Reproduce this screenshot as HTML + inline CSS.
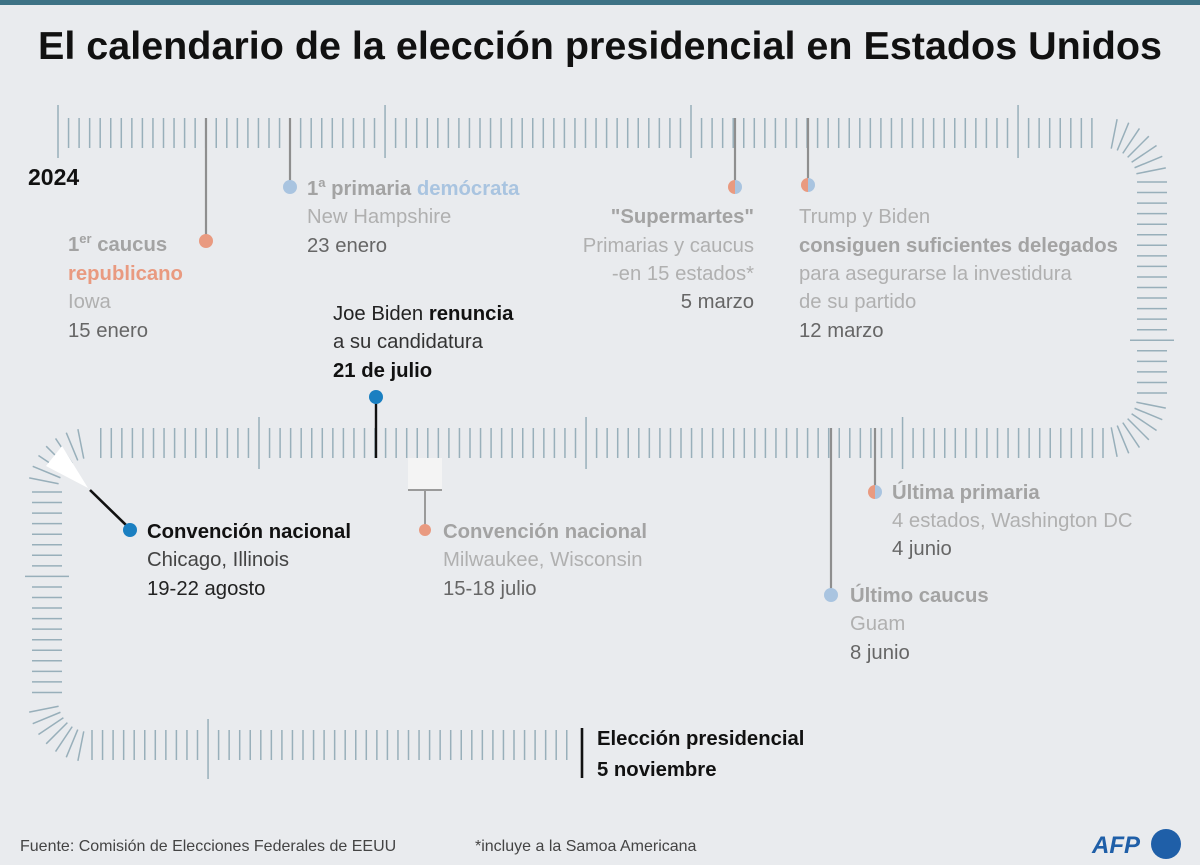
<!DOCTYPE html>
<html><head><meta charset="utf-8">
<style>
html,body{margin:0;padding:0;background:#e9ebee;}
svg{display:block;font-family:"Liberation Sans",sans-serif;}
.t{font-size:20.3px;}
.g1{fill:#a3a3a3;font-weight:bold}
.lt{fill:#b0b0b0}
.dk{fill:#666}
.bk{fill:#111}
</style></head><body>
<svg id="s" width="1200" height="865" viewBox="0 0 1200 865" xmlns="http://www.w3.org/2000/svg">
<rect width="1200" height="865" fill="#e9ebee"/>
<rect x="0" y="0" width="1200" height="5" fill="#3e7285"/>
<text x="600" y="59" text-anchor="middle" font-size="39" font-weight="bold" fill="#111" textLength="1124" lengthAdjust="spacingAndGlyphs">El calendario de la elección presidencial en Estados Unidos</text>
<g id="ticks" stroke="#98afba" stroke-width="1.5"></g>

<polygon points="88,488 46,466 62,446" fill="#ffffff"/>
<rect x="408" y="458" width="34" height="32" fill="#f4f4f4"/>
<line x1="408" y1="490" x2="442" y2="490" stroke="#9a9a9a" stroke-width="2"/>
<line x1="425" y1="490" x2="425" y2="526" stroke="#9a9a9a" stroke-width="2"/>
<circle cx="425" cy="530" r="6" fill="#e99a80"/>

<g stroke="#8e8e8e" stroke-width="2.2">
<line x1="206" y1="118" x2="206" y2="236"/>
<line x1="290" y1="118" x2="290" y2="182"/>
<line x1="735" y1="118" x2="735" y2="182"/>
<line x1="808" y1="118" x2="808" y2="180"/>
<line x1="875" y1="428" x2="875" y2="487"/>
<line x1="831" y1="428" x2="831" y2="590"/>
</g>
<line x1="376" y1="400" x2="376" y2="458" stroke="#111" stroke-width="2.4"/>
<line x1="90" y1="490" x2="128" y2="527" stroke="#111" stroke-width="2.6"/>
<line x1="582" y1="728" x2="582" y2="778" stroke="#111" stroke-width="2.6"/>
<circle cx="206" cy="241" r="7" fill="#e99a80"/>
<circle cx="290" cy="187" r="7" fill="#a9c4e0"/>
<circle cx="376" cy="397" r="7" fill="#1a7fc1"/>
<circle cx="130" cy="530" r="7" fill="#1a7fc1"/>
<circle cx="831" cy="595" r="7" fill="#a9c4e0"/>
<g>
<path d="M735,180 a7,7 0 0 0 0,14z" fill="#e99a80"/><path d="M735,180 a7,7 0 0 1 0,14z" fill="#a9c4e0"/>
<path d="M808,178 a7,7 0 0 0 0,14z" fill="#e99a80"/><path d="M808,178 a7,7 0 0 1 0,14z" fill="#a9c4e0"/>
<path d="M875,485 a7,7 0 0 0 0,14z" fill="#e99a80"/><path d="M875,485 a7,7 0 0 1 0,14z" fill="#a9c4e0"/>
</g>

<text x="28" y="185" font-size="23" font-weight="bold" fill="#111">2024</text>

<g class="t">
<text x="68" y="251" class="g1">1<tspan font-size="13" dy="-8">er</tspan><tspan dy="8"> caucus</tspan></text>
<text x="68" y="280" font-weight="bold" fill="#e99a80">republicano</text>
<text x="68" y="308" class="lt">Iowa</text>
<text x="68" y="337" class="dk">15 enero</text>

<text x="307" y="195" class="g1">1<tspan font-size="13" dy="-8">a</tspan><tspan dy="8"> primaria </tspan><tspan fill="#a9c4e0">demócrata</tspan></text>
<text x="307" y="223" class="lt">New Hampshire</text>
<text x="307" y="252" class="dk">23 enero</text>

<text x="754" y="223" text-anchor="end" class="g1">"Supermartes"</text>
<text x="754" y="252" text-anchor="end" class="lt">Primarias y caucus</text>
<text x="754" y="280" text-anchor="end" class="lt">-en 15 estados*</text>
<text x="754" y="308" text-anchor="end" class="dk">5 marzo</text>

<text x="799" y="223" class="lt">Trump y Biden</text>
<text x="799" y="252" class="g1">consiguen suficientes delegados</text>
<text x="799" y="280" class="lt">para asegurarse la investidura</text>
<text x="799" y="308" class="lt">de su partido</text>
<text x="799" y="337" class="dk">12 marzo</text>

<text x="333" y="320" fill="#222">Joe Biden <tspan font-weight="bold" fill="#111">renuncia</tspan></text>
<text x="333" y="348" fill="#333">a su candidatura</text>
<text x="333" y="377" font-weight="bold" fill="#111">21 de julio</text>

<text x="147" y="538" font-weight="bold" fill="#111">Convención nacional</text>
<text x="147" y="566" fill="#444">Chicago, Illinois</text>
<text x="147" y="595" fill="#222">19-22 agosto</text>

<text x="443" y="538" class="g1">Convención nacional</text>
<text x="443" y="566" class="lt">Milwaukee, Wisconsin</text>
<text x="443" y="595" class="dk">15-18 julio</text>

<text x="892" y="499" class="g1">Última primaria</text>
<text x="892" y="527" class="lt">4 estados, Washington DC</text>
<text x="892" y="555" class="dk">4 junio</text>

<text x="850" y="602" class="g1">Último caucus</text>
<text x="850" y="630" class="lt">Guam</text>
<text x="850" y="659" class="dk">8 junio</text>

<text x="597" y="745" font-weight="bold" fill="#111">Elección presidencial</text>
<text x="597" y="776" font-weight="bold" fill="#111">5 noviembre</text>
</g>

<text x="20" y="851" font-size="16" fill="#444">Fuente: Comisión de Elecciones Federales de EEUU</text>
<text x="475" y="851" font-size="16" fill="#444">*incluye a la Samoa Americana</text>
<text x="1092" y="853" font-size="24" font-weight="bold" font-style="italic" fill="#1f5fa8">AFP</text>
<circle cx="1166" cy="844" r="15" fill="#1f5fa8"/>
</svg>
<script>
(function(){
var g=document.getElementById('ticks'),NS='http://www.w3.org/2000/svg';
function L(x1,y1,x2,y2){var l=document.createElementNS(NS,'line');l.setAttribute('x1',x1);l.setAttribute('y1',y1);l.setAttribute('x2',x2);l.setAttribute('y2',y2);g.appendChild(l);}
var h=15,H=26,st=10.55;
var longs=[58,385,691,1018];
for(var x=58;x<=1100;x+=st){var lg=longs.some(function(v){return Math.abs(v-x)<5});L(x,133-(lg?H+2:h),x,133+(lg?H-1:h));}
function arc(cx,cy,r,a0,a1,n){for(var i=1;i<=n;i++){var a=(a0+(a1-a0)*i/(n+1))*Math.PI/180;var dx=Math.cos(a),dy=Math.sin(a);L(cx+(r-h)*dx,cy+(r-h)*dy,cx+(r+h)*dx,cy+(r+h)*dy);}}
arc(1105,180,47,-90,0,7);
for(var y=182;y<=396;y+=st){var lg=Math.abs(y-340)<5;L(1152-(lg?22:h),y,1152+(lg?22:h),y);}
arc(1105,396,47,0,90,7);
var ml=[905,588,260];
for(var x=1103;x>=92;x-=st){var lg=ml.some(function(v){return Math.abs(v-x)<5});L(x,443-(lg?H:h),x,443+(lg?H:h));}
arc(90,490,47,180,270,7);
for(var y=492;y<=700;y+=st){var lg=Math.abs(y-578)<5;L(47-(lg?22:h),y,47+(lg?22:h),y);}
arc(90,700,47,90,180,7);
for(var x=92;x<=572;x+=st){var lg=Math.abs(x-210)<5;L(x,745-(lg?H:h),x,745+(lg?H+8:h));}
})();
</script>
</body></html>
